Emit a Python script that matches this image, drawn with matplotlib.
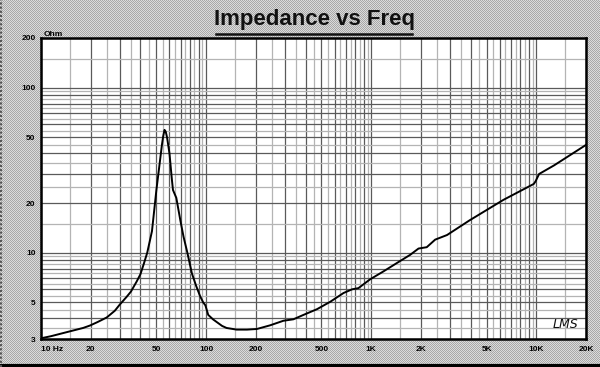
import numpy as np
import matplotlib
matplotlib.use("Agg")
import matplotlib.pyplot as plt
from matplotlib.ticker import FixedLocator, FuncFormatter, NullFormatter
from matplotlib.lines import Line2D

# ---- data ----
freq = [10, 11.5, 13, 15.7, 18, 19.8, 22, 25, 28, 30, 33, 35, 38, 40, 42, 44, 47,
        50, 52, 54, 55, 56, 57, 58, 60, 62, 63, 66, 70, 73, 77, 82, 87, 92, 96, 99,
        103, 110, 116, 125, 133, 153, 177, 203, 244, 294, 338, 389, 470, 566, 680,
        766, 837, 985, 1185, 1428, 1720, 1935, 2170, 2440, 2880, 3940, 6320, 9650,
        9880, 10400, 12800, 20000]
impedance = [3.03, 3.12, 3.22, 3.38, 3.5, 3.62, 3.8, 4.05, 4.45, 4.85, 5.4, 5.8, 6.7,
             7.4, 8.6, 10.0, 13.5, 24, 33, 45, 51, 55.5, 54, 50, 40, 28, 24, 21.5,
             15.5, 12.5, 10, 7.5, 6.3, 5.45, 5.0, 4.8, 4.2, 3.95, 3.8, 3.6, 3.5, 3.42,
             3.42, 3.45, 3.63, 3.87, 3.95, 4.2, 4.55, 5.05, 5.7, 6.0, 6.1, 6.9, 7.7,
             8.65, 9.7, 10.6, 10.8, 12.0, 12.8, 15.7, 20.9, 26.1, 27.0, 30.0, 33.8, 45]

x_labels = {10: "10 Hz", 20: "20", 50: "50", 100: "100", 200: "200", 500: "500",
            1000: "1K", 2000: "2K", 5000: "5K", 10000: "10K", 20000: "20K"}
y_labels = {3: "3", 5: "5", 10: "10", 20: "20", 50: "50", 100: "100", 200: "200"}

title = "Impedance vs Freq"
unit = "Ohm"
logo = "LMS"

BG = "#c2c2c2"
W, H = 600, 367
fig = plt.figure(figsize=(W / 100, H / 100), dpi=100)
fig.patch.set_facecolor(BG)

# dithered-looking background
yy, xx = np.mgrid[0:H, 0:W]
checker = ((xx + yy) % 2).astype(float)
img = np.where(checker[..., None] > 0, np.array([0.86, 0.86, 0.86]), np.array([0.66, 0.66, 0.66]))
fig.figimage(img, xo=0, yo=0, zorder=-10)

L, R, T, B = 41, 586, 38, 339
ax = fig.add_axes([L / W, (H - B) / H, (R - L) / W, (B - T) / H])
ax.set_zorder(5)
ax.set_facecolor("white")
ax.set_xscale("log")
ax.set_yscale("log")
ax.set_xlim(10, 20000)
ax.set_ylim(3, 200)

def grid_vals(lo, hi, subs):
    out = []
    d = 1.0
    while d <= hi * 10:
        for s in subs:
            v = s * d
            if lo <= v <= hi * 1.0001:
                out.append(v)
        d *= 10
    return out

major_subs = [1, 2, 3, 4, 5, 6, 7, 8, 9]
minor_subs = [1.5, 2.5, 3.5, 4.5, 5.5, 6.5, 7.5, 8.5, 9.5]

ax.xaxis.set_major_locator(FixedLocator(grid_vals(10, 20000, major_subs)))
ax.xaxis.set_minor_locator(FixedLocator(grid_vals(10, 20000, minor_subs)))
ax.yaxis.set_major_locator(FixedLocator(grid_vals(3, 200, major_subs)))
ax.yaxis.set_minor_locator(FixedLocator(grid_vals(3, 200, minor_subs)))

ax.grid(True, which="major", color="#5a5a5a", linewidth=0.9)
ax.grid(True, which="minor", color="#b4b4b4", linewidth=0.9)
ax.set_axisbelow(True)

def fx(v, pos):
    for k, s in x_labels.items():
        if abs(v - k) / k < 1e-6:
            return s
    return ""

def fy(v, pos):
    for k, s in y_labels.items():
        if abs(v - k) / k < 1e-6:
            return s
    return ""

ax.xaxis.set_major_formatter(FuncFormatter(fx))
ax.yaxis.set_major_formatter(FuncFormatter(fy))
ax.xaxis.set_minor_formatter(NullFormatter())
ax.yaxis.set_minor_formatter(NullFormatter())
ax.tick_params(which="both", length=0)
ax.tick_params(axis="x", pad=5, labelsize=6)
ax.tick_params(axis="y", pad=4, labelsize=6)
for lab in ax.get_xticklabels() + ax.get_yticklabels():
    lab.set_fontweight("bold")
    lab.set_family("Liberation Sans")
for lab in ax.get_xticklabels():
    if lab.get_text() == "10 Hz":
        lab.set_horizontalalignment("left")

for sp in ax.spines.values():
    sp.set_linewidth(1.8)
    sp.set_color("black")

ax.plot(freq, impedance, color="black", linewidth=1.4, zorder=5)

# title with underline
fig.text(314 / W, 1 - 19 / H, title, ha="center", va="center",
         fontsize=16, fontweight="bold", family=["Liberation Sans Narrow", "Liberation Sans"],
         color="#111111", zorder=6)
fig.add_artist(Line2D([216 / W, 412 / W], [1 - 34 / H, 1 - 34 / H],
                      color="#111111", linewidth=1.8, transform=fig.transFigure, zorder=6))

fig.text(44 / W, 1 - 34 / H, unit, ha="left", va="center", fontsize=6,
         fontweight="bold", family="Liberation Sans", zorder=6)
fig.text(565 / W, 1 - 324 / H, logo, ha="center", va="center", fontsize=9,
         style="italic", family="DejaVu Sans", color="#111111", zorder=10)

# frame edges
fig.add_artist(Line2D([0, 1], [1.5 / H, 1.5 / H], color="black", linewidth=3,
                      transform=fig.transFigure, zorder=6))
fig.add_artist(Line2D([1 / W, 1 / W], [0, 1], color="#555555", linewidth=1.5,
                      linestyle=(0, (1, 1)), transform=fig.transFigure, zorder=6))

fig.savefig("out.png", dpi=100, facecolor=fig.get_facecolor())
